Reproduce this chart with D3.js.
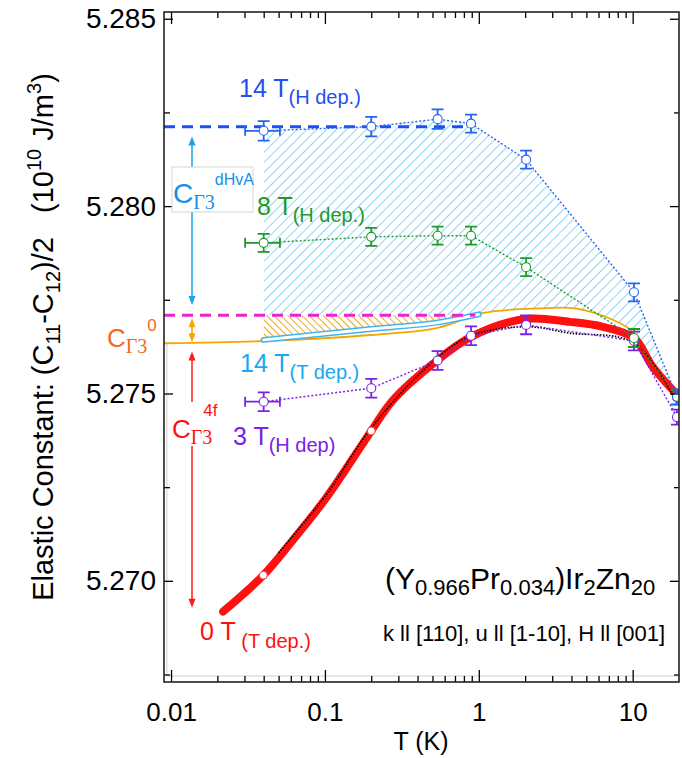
<!DOCTYPE html>
<html><head><meta charset="utf-8">
<script src="https://cdn.jsdelivr.net/npm/d3@7"></script>
<style>
body{margin:0;background:#fff}
svg{display:block}
text{font-family:"Liberation Sans",Arial,Helvetica,sans-serif}
</style>
</head><body>
<svg id="c" width="682" height="758"></svg>
<script>
// ---------- data ----------
const xMajor = [0.01, 0.1, 1, 10];
const xMinor = [0.02,0.03,0.04,0.05,0.06,0.07,0.08,0.09,0.2,0.3,0.4,0.5,0.6,0.7,0.8,0.9,2,3,4,5,6,7,8,9];
const yMajor = [5.270, 5.275, 5.280, 5.285];
const yMinor = [5.2675, 5.2725, 5.2775, 5.2825];

// field-dependent (H dep.) points
const tH      = [0.04, 0.2, 0.54, 0.89, 2.03, 10.2, 19.4];
const b14V    = [5.28201, 5.28212, 5.28232, 5.28220, 5.28124, 5.27770, 5.27491];
const b14E    = [0.00026, 0.00026, 0.00026, 0.00024, 0.00024, 0.00024, 0.00020];
const g8V     = [5.27902, 5.27918, 5.27921, 5.27921, 5.27837, 5.27648, 5.27490];
const g8E     = [0.00024, 0.00024, 0.00024, 0.00024, 0.00024, 0.00024, 0.00020];
const p3V     = [5.27478, 5.27514, 5.27588, 5.27654, 5.27683, 5.27640, 5.27437];
const p3E     = [0.00025, 0.00025, 0.00025, 0.00025, 0.00025, 0.00025, 0.00020];
const tErrLo  = [0.0303, null, null, null, null, null, null];
const tErrHi  = [0.051, null, null, null, null, null, null];

// 0 T temperature sweep
const t0T = [0.0218, 0.0398, 0.062, 0.103, 0.2, 0.277, 0.5, 0.89, 2.02, 3.9, 6.4, 10.2, 13.5, 19.6];
const v0T = [5.26918, 5.27015, 5.27109, 5.27224, 5.27400, 5.27482, 5.27578, 5.27651, 5.27699, 5.27691, 5.27678, 5.27648, 5.27571, 5.27495];
const t0Circ = [0.0398, 0.2];
const v0Circ = [5.27015, 5.27400];

// black dotted fit
const tFit = [0.05, 0.103, 0.2, 0.5, 0.89, 2.02, 3.9, 10.2, 19.6];
const vFit = [5.27075, 5.27232, 5.27408, 5.27584, 5.27654, 5.27678, 5.27661, 5.27635, 5.27470];

// orange background curve
const tOr = [0.009, 0.04, 0.2, 0.54, 1.07, 2.5, 4.2, 6.6, 9.7, 12.7, 19.6];
const vOr = [5.27634, 5.27640, 5.27656, 5.27675, 5.27715, 5.27727, 5.27727, 5.27705, 5.27669, 5.27590, 5.27485];

// 14 T temperature sweep
const t14T = [0.04, 0.2, 0.53, 1.0];
const v14T = [5.27643, 5.27672, 5.27689, 5.27711];

// reference levels
const vDhva = 5.28212;  // blue dashed
const vZero = 5.27709;  // magenta dashed

// ---------- scales ----------
const svg = d3.select("#c");
const x = d3.scaleLog().domain([0.009, 20]).range([164, 679]);
const y = d3.scaleLinear().domain([5.2673, 5.28518]).range([682, 12]);

const defs = svg.append("defs");
defs.append("clipPath").attr("id","clip").append("rect")
  .attr("x",164).attr("y",12).attr("width",515).attr("height",670);
const pb = defs.append("pattern").attr("id","hb").attr("patternUnits","userSpaceOnUse")
  .attr("width",7).attr("height",7).attr("patternTransform","rotate(45)");
pb.append("line").attr("x1",0).attr("y1",0).attr("x2",0).attr("y2",7)
  .attr("stroke","#5fc0f0").attr("stroke-width",1.4);
const po = defs.append("pattern").attr("id","ho").attr("patternUnits","userSpaceOnUse")
  .attr("width",5).attr("height",5).attr("patternTransform","rotate(-45)");
po.append("line").attr("x1",0).attr("y1",0).attr("x2",0).attr("y2",5)
  .attr("stroke","#f29c00").attr("stroke-width",1.8);

const plot = svg.append("g").attr("clip-path","url(#clip)");

const lin = d3.line().x(d=>x(d[0])).y(d=>y(d[1]));
const cur = d3.line().x(d=>x(d[0])).y(d=>y(d[1])).curve(d3.curveCatmullRom.alpha(0.5));
const zip = (a,b)=>a.map((v,i)=>[v,b[i]]);

// gray inner frame
plot.append("path")
  .attr("d",`M${x(0.0094)},${y(vOr[0])}V676H679`)
  .attr("fill","none").attr("stroke","#cfcfcf").attr("stroke-width",1);

// blue hatch region
const orPts = zip(tOr, vOr).filter(d=>d[0]>=1.07 && d[0]<=19.4);
orPts[orPts.length-1] = [19.4, vOr[vOr.length-1]];
const topPts = zip(tH, b14V);
const hb = lin(topPts) + cur(orPts.slice().reverse()).replace(/^M/,"L")
  + "L" + x(0.95) + "," + y(vZero) + "L" + x(0.04) + "," + y(vZero) + "Z";
plot.append("path").attr("d",hb).attr("fill","url(#hb)");

// orange hatch region
const ho = lin([[0.04,vZero],[1.0,vZero]]) + cur(zip(t14T,v14T).reverse()).replace(/^M/,"L") + "Z";
plot.append("path").attr("d",ho).attr("fill","url(#ho)");

// orange curve
plot.append("path").attr("d",cur(zip(tOr,vOr))).attr("fill","none")
  .attr("stroke","#f5a500").attr("stroke-width",1.8);

// light blue 14 T T-dep band
plot.append("path").attr("d",cur(zip(t14T,v14T))).attr("fill","none")
  .attr("stroke","#40b4f0").attr("stroke-width",6).attr("stroke-linecap","round");
plot.append("path").attr("d",cur(zip(t14T,v14T))).attr("fill","none")
  .attr("stroke","#ffffff").attr("stroke-width",3).attr("stroke-linecap","round");

// reference dashed lines
plot.append("path").attr("d",lin([[0.009,vZero],[0.95,vZero]])).attr("fill","none")
  .attr("stroke","#ee22cc").attr("stroke-width",3).attr("stroke-dasharray","11,7");
plot.append("path").attr("d",lin([[0.009,vDhva],[0.9,vDhva]])).attr("fill","none")
  .attr("stroke","#1c50f5").attr("stroke-width",3).attr("stroke-dasharray","11,7");

// red 0 T curve
plot.append("path").attr("d",cur(zip(t0T,v0T))).attr("fill","none")
  .attr("stroke","#ff1010").attr("stroke-width",8).attr("stroke-linecap","round");
// black dotted fit
plot.append("path").attr("d",cur(zip(tFit,vFit))).attr("fill","none")
  .attr("stroke","#000").attr("stroke-width",1.6).attr("stroke-dasharray","1.5,1.5");
// red open circles
plot.selectAll(".rc").data(zip(t0Circ,v0Circ)).enter().append("circle")
  .attr("cx",d=>x(d[0])).attr("cy",d=>y(d[1])).attr("r",4)
  .attr("fill","#fff").attr("stroke","#ff3030").attr("stroke-width",1);

// H-dependent series
function series(V, E, color){
  const g = plot.append("g");
  g.append("path").attr("d",lin(zip(tH,V))).attr("fill","none")
    .attr("stroke",color).attr("stroke-width",1.4).attr("stroke-dasharray","2,2");
  tH.forEach((t,i)=>{
    const cx = x(t), y0 = y(V[i]-E[i]), y1 = y(V[i]+E[i]);
    g.append("path").attr("d",`M${cx},${y0}V${y1}M${cx-6},${y0}H${cx+6}M${cx-6},${y1}H${cx+6}`)
      .attr("stroke",color).attr("stroke-width",1.8).attr("fill","none");
    if (tErrLo[i]!==null){
      const xa = x(tErrLo[i]), xb = x(tErrHi[i]), cy = y(V[i]);
      g.append("path").attr("d",`M${xa},${cy}H${xb}M${xa},${cy-5}V${cy+5}M${xb},${cy-5}V${cy+5}`)
        .attr("stroke",color).attr("stroke-width",1.8).attr("fill","none");
    }
    g.append("circle").attr("cx",cx).attr("cy",y(V[i])).attr("r",4.5)
      .attr("fill","#fff").attr("stroke",color).attr("stroke-width",1.1);
  });
}
series(p3V, p3E, "#7a22e6");
series(g8V, g8E, "#1e9a28");
series(b14V, b14E, "#2466f0");

// ---------- axes ----------
const ax = svg.append("g");
function styleAxis(g){ g.select(".domain").remove(); g.selectAll("line").attr("stroke","#000").attr("stroke-width",1.3); }
ax.append("g").attr("transform","translate(0,682)")
  .call(d3.axisBottom(x).tickValues(xMajor).tickSize(-12).tickSizeOuter(0).tickPadding(21)
    .tickFormat(d3.format("~g")))
  .call(styleAxis)
  .selectAll("text").attr("font-size",26).attr("fill","#000");
ax.append("g").attr("transform","translate(0,682)")
  .call(d3.axisBottom(x).tickValues(xMinor).tickSize(-6).tickSizeOuter(0).tickFormat("")).call(styleAxis);
ax.append("g").attr("transform","translate(0,12)")
  .call(d3.axisTop(x).tickValues(xMajor).tickSize(-12).tickSizeOuter(0).tickFormat("")).call(styleAxis);
ax.append("g").attr("transform","translate(0,12)")
  .call(d3.axisTop(x).tickValues(xMinor).tickSize(-6).tickSizeOuter(0).tickFormat("")).call(styleAxis);
ax.append("g").attr("transform","translate(164,0)")
  .call(d3.axisLeft(y).tickValues(yMajor).tickSize(-9).tickSizeOuter(0).tickPadding(8)
    .tickFormat(d3.format(".3f")))
  .call(styleAxis)
  .selectAll("text").attr("font-size",28).attr("fill","#000");
ax.append("g").attr("transform","translate(164,0)")
  .call(d3.axisLeft(y).tickValues(yMinor).tickSize(-6).tickSizeOuter(0).tickFormat("")).call(styleAxis);
ax.append("g").attr("transform","translate(679,0)")
  .call(d3.axisRight(y).tickValues(yMajor).tickSize(-9).tickSizeOuter(0).tickFormat("")).call(styleAxis);
ax.append("g").attr("transform","translate(679,0)")
  .call(d3.axisRight(y).tickValues(yMinor).tickSize(-5).tickSizeOuter(0).tickFormat("")).call(styleAxis);
svg.append("rect").attr("x",164).attr("y",12).attr("width",515).attr("height",670)
  .attr("fill","none").attr("stroke","#222").attr("stroke-width",1.6);

// axis titles
svg.append("text").attr("x",421).attr("y",750).attr("text-anchor","middle")
  .attr("font-size",25).text("T (K)");
const yt = svg.append("text").attr("transform","translate(53,337) rotate(-90)")
  .attr("text-anchor","middle").attr("font-size",29);
yt.append("tspan").text("Elastic Constant: (C");
yt.append("tspan").attr("font-size",20).attr("dy",7).text("11");
yt.append("tspan").attr("dy",-7).text("-C");
yt.append("tspan").attr("font-size",20).attr("dy",7).text("12");
yt.append("tspan").attr("dy",-7).text(")/2\u00a0\u00a0\u00a0(10");
yt.append("tspan").attr("font-size",20).attr("dy",-12).text("10");
yt.append("tspan").attr("dy",12).text(" J/m");
yt.append("tspan").attr("font-size",20).attr("dy",-12).text("3");
yt.append("tspan").attr("dy",12).text(")");

// ---------- annotations ----------
function arrowHead(g, cx, cy, dir, color){
  g.append("path").attr("d",`M${cx},${cy}L${cx-3.5},${cy-dir*9}L${cx+3.5},${cy-dir*9}Z`).attr("fill",color);
}
function vArrow(cx, vTop, vBot, color, w){
  const g = svg.append("g");
  const a = y(vTop), b = y(vBot);
  g.append("line").attr("x1",cx).attr("x2",cx).attr("y1",a+4).attr("y2",b-4)
    .attr("stroke",color).attr("stroke-width",w);
  arrowHead(g, cx, a, -1, color);
  arrowHead(g, cx, b, 1, color);
}
vArrow(192, 5.28186, 5.27736, "#1aa3ec", 1.5);
vArrow(192, 5.27701, 5.27637, "#f5a500", 1.5);
vArrow(192, 5.27612, 5.26928, "#ff1a1a", 1.5);

function rich(xp, yp, color, parts){
  const t = svg.append("text").attr("x",xp).attr("y",yp).attr("fill",color);
  let cur = 0;
  parts.forEach(p=>{
    const s = t.append("tspan").attr("font-size",p.s).attr("dy",(p.dy||0)-cur).text(p.t);
    if (p.f) s.attr("font-family",p.f);
    if (p.dx) s.attr("dx",p.dx);
    cur = p.dy||0;
  });
  return t;
}
const serif = '"Liberation Serif","Times New Roman",serif';

// C dHvA box
svg.append("rect").attr("x",172).attr("y",167).attr("width",81).attr("height",45)
  .attr("fill","#fff").attr("stroke","#d6d6d6").attr("stroke-width",1);
rich(173, 203, "#1a8ee6", [{t:"C",s:28},{t:"\u03933",s:20,dy:6,f:serif},{t:"dHvA",s:16,dy:-18}]);
// C 0
rich(107, 347, "#f26a1c", [{t:"C",s:26},{t:"\u03933",s:20,dy:6,f:serif},{t:"0",s:17,dy:-16}]);
// C 4f
svg.append("rect").attr("x",180).attr("y",402).attr("width",46).attr("height",44).attr("fill","#fff");
rich(172, 438, "#ff1010", [{t:"C",s:26},{t:"\u03933",s:20,dy:6,f:serif},{t:"4f",s:17,dy:-22,dx:-9}]);

rich(239, 97, "#1f4ff2", [{t:"14 T",s:25},{t:"(H dep.)",s:20,dy:7}]);
rich(257, 215, "#1e9a28", [{t:"8 T",s:25},{t:"(H dep.)",s:20,dy:7}]);
rich(240, 372, "#1aa8f0", [{t:"14 T",s:25},{t:"(T dep.)",s:20,dy:7}]);
rich(233, 445, "#7a22e6", [{t:"3 T",s:25},{t:"(H dep)",s:20,dy:7}]);
rich(200, 640, "#ff1010", [{t:"0 T",s:25},{t:"\u00a0(T dep.)",s:20,dy:8}]);

rich(385, 589, "#000", [{t:"(Y",s:30},{t:"0.966",s:22,dy:6},{t:"Pr",s:30},{t:"0.034",s:22,dy:6},
  {t:")Ir",s:30},{t:"2",s:22,dy:6},{t:"Zn",s:30},{t:"20",s:22,dy:6}]);
svg.append("text").attr("x",383).attr("y",641).attr("font-size",22).attr("fill","#000")
  .text("k ll [110], u ll [1-10], H ll [001]");
</script>
</body></html>
